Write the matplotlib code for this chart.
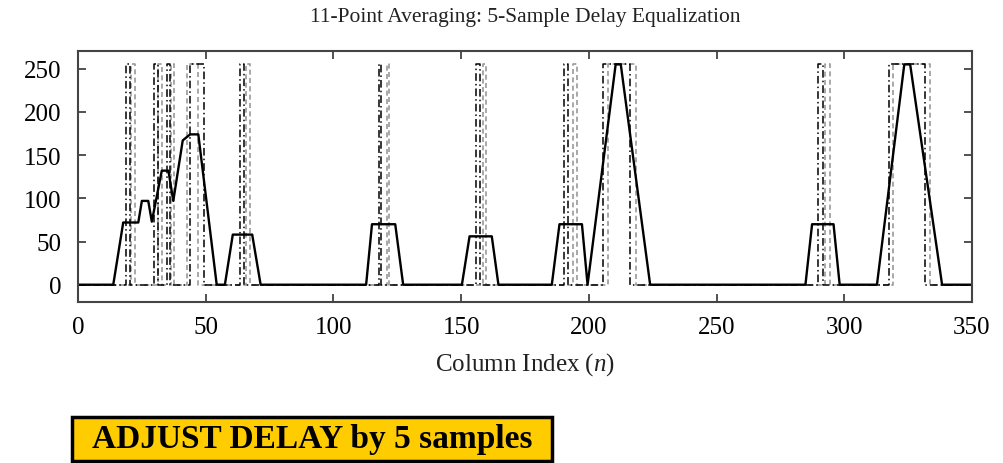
import matplotlib
matplotlib.use("Agg")
import matplotlib.pyplot as plt
from matplotlib.patches import Rectangle
import numpy as np

plt.rcParams["font.family"] = ["Liberation Serif", "DejaVu Serif"]
plt.rcParams["mathtext.fontset"] = "custom"
plt.rcParams["mathtext.rm"] = "Liberation Serif"
plt.rcParams["mathtext.it"] = "Liberation Serif:italic"

# input pulses (0 -> 255), start / end column
black_start = [18.8, 29.8, 34.8, 44.0, 63.3, 117.8, 155.8, 190.3, 205.5, 289.8, 317.5]
black_end = [20.5, 31.5, 36.0, 49.5, 64.8, 118.8, 157.3, 192.0, 216.3, 291.5, 331.5]
grey_start = [20.8, 31.5, 36.3, 42.5, 65.8, 120.8, 158.5, 193.8, 207.6, 292.6, 319.0]
grey_end = [22.5, 33.0, 37.5, 47.0, 67.2, 121.8, 159.7, 195.3, 218.5, 294.3, 333.5]
high = 255

# 11-point average output (solid line) vertices
avg_x = [0, 13.8, 17.7, 23.6, 25.0, 27.5, 28.9, 32.8, 35.4, 37.3, 41.0, 43.9, 47.1, 54.3,
         57.5, 60.6, 68.2, 71.5, 112.8, 115.1, 124.2, 127.3, 150.3, 153.3, 162.0, 164.6,
         185.5, 188.5, 197.3, 199.5, 210.5, 212.5, 224.0, 284.8, 287.4, 295.8, 298.2,
         312.8, 323.5, 325.8, 338.3, 350]
avg_y = [0, 0, 72, 72, 97, 97, 73, 132, 132, 97, 167, 174, 174, 0,
         0, 58, 58, 0, 0, 70, 70, 0, 0, 56, 56, 0,
         0, 70, 70, 0, 255, 255, 0, 0, 70, 70, 0,
         0, 255, 255, 0, 0]


def pulse_line(starts, ends, level):
    xs, ys = [0], [0]
    for a, b in zip(starts, ends):
        xs += [a, a, b, b]
        ys += [0, level, level, 0]
    xs.append(350)
    ys.append(0)
    return xs, ys


fig = plt.figure(figsize=(10.04, 4.64), dpi=100)
ax = fig.add_axes([0.0777, 0.347, 0.8904, 0.540])

gx, gy = pulse_line(grey_start, grey_end, high)
bx, by = pulse_line(black_start, black_end, high)
ax.plot(gx, gy, color="#9a9a9a", lw=1.2, ls=(0, (3, 2)))
ax.plot(bx, by, color="black", lw=1.1, ls=(0, (5, 2, 1, 2)))
ax.plot(avg_x, avg_y, color="black", lw=1.7)

ax.set_xlim(0, 350)
ax.set_ylim(-20, 270)
ax.set_xticks(np.arange(0, 351, 50))
ax.set_yticks(np.arange(0, 251, 50))
ax.tick_params(direction="in", top=True, right=True, length=6, width=1.2,
               labelsize=18, color="#333333")
ax.tick_params(axis="x", pad=10)
ax.tick_params(axis="y", pad=12)
for s in ax.spines.values():
    s.set_linewidth(1.5)
    s.set_color("#444444")

ax.set_title("11-Point Averaging: 5-Sample Delay Equalization", fontsize=15.5, pad=22,
             color="#222222")
ax.set_xlabel(r"Column Index ($n$)", fontsize=18, labelpad=9, color="#222222")

fig.patches.append(Rectangle((72 / 1004, 2 / 464), 480 / 1004, 44 / 464,
                             transform=fig.transFigure, facecolor="#ffcc00",
                             edgecolor="black", lw=2.5))
fig.text(312 / 1004, 24 / 464, "ADJUST DELAY by 5 samples", fontsize=24,
         fontweight="bold", ha="center", va="center")

fig.savefig("out.png", dpi=100)
